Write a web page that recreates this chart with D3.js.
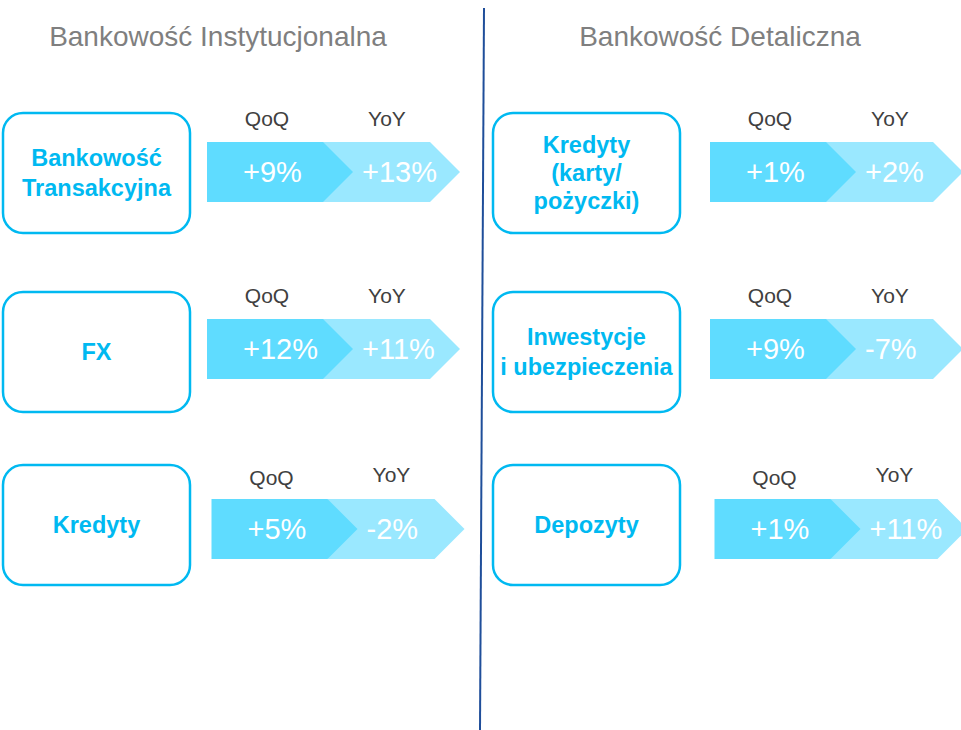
<!DOCTYPE html>
<html>
<head>
<meta charset="utf-8">
<script src="https://cdn.jsdelivr.net/npm/d3@7"></script>
<style>
  html, body { margin: 0; padding: 0; background: #ffffff; }
  svg { display: block; }
  text { font-family: "Liberation Sans", Arial, Helvetica, sans-serif; }
</style>
</head>
<body>
<svg id="chart" width="961" height="730"></svg>
<script>
// ---------- DATA ----------
const panels = ["Bankowość Instytucjonalna", "Bankowość Detaliczna"];
const categories = [
  "Bankowość\nTransakcyjna", "FX", "Kredyty",
  "Kredyty\n(karty/\npożyczki)", "Inwestycje\ni ubezpieczenia", "Depozyty"
];
const categoryPanel = [0, 0, 0, 1, 1, 1];
const categoryRow = [0, 1, 2, 0, 1, 2];
const qoqValues = [9, 12, 5, 1, 9, 1];
const yoyValues = [13, 11, -2, 2, -7, 11];
const seriesLabels = ["QoQ", "YoY"];

// ---------- LAYOUT ----------
const W = 961, H = 730;
const svg = d3.select("#chart");
const fmt = v => (v < 0 ? "-" : "+") + Math.abs(v) + "%";

const panelBoxX = d3.scaleOrdinal().domain([0, 1]).range([3, 493]);
const panelArrowX = d3.scaleOrdinal().domain([0, 1]).range([207, 710]);
const panelTitleX = d3.scaleOrdinal().domain([0, 1]).range([218, 720]);
const rowBoxTop = d3.scaleOrdinal().domain([0, 1, 2]).range([113, 292, 465]);
const rowArrowTop = d3.scaleOrdinal().domain([0, 1, 2]).range([142, 319, 499]);
const rowArrowShift = d3.scaleOrdinal().domain([0, 1, 2]).range([0, 0, 4.5]);

const boxW = 187, boxH = 120;
const arrowH = 60, bodyW = 116, tipW = 30, body2W = 107;

const C_BOX = "#00B9F1";
const C_DARK = "#5FDCFF";
const C_LIGHT = "#9AE8FF";
const C_LABEL = "#404040";
const C_TITLE = "#7F7F7F";

// Divider
svg.append("line")
  .attr("x1", 484).attr("y1", 8)
  .attr("x2", 480).attr("y2", H)
  .attr("stroke", "#1F4E9A").attr("stroke-width", 2);

// Titles
svg.selectAll("text.title").data(panels).enter().append("text")
  .attr("class", "title")
  .attr("x", (d, i) => panelTitleX(i))
  .attr("y", 46)
  .attr("text-anchor", "middle")
  .attr("font-size", 28)
  .attr("fill", C_TITLE)
  .text(d => d);

const line = d3.line();
const items = categories.map((c, i) => ({
  name: c, panel: categoryPanel[i], row: categoryRow[i],
  qoq: qoqValues[i], yoy: yoyValues[i]
}));

const g = svg.selectAll("g.item").data(items).enter().append("g").attr("class", "item");

// Category boxes
g.append("rect")
  .attr("x", d => panelBoxX(d.panel))
  .attr("y", d => rowBoxTop(d.row))
  .attr("width", boxW).attr("height", boxH)
  .attr("rx", 20).attr("ry", 20)
  .attr("fill", "#ffffff")
  .attr("stroke", C_BOX).attr("stroke-width", 2.5);

g.each(function(d) {
  const lines = d.name.split("\n");
  const n = lines.length;
  const cx = panelBoxX(d.panel) + boxW / 2;
  const cy = rowBoxTop(d.row) + boxH / 2;
  const lh = n === 3 ? 28 : 30;
  const t = d3.select(this).append("text")
    .attr("text-anchor", "middle")
    .attr("font-weight", "bold")
    .attr("font-size", 23.5)
    .attr("fill", C_BOX);
  lines.forEach((ln, k) => {
    t.append("tspan")
      .attr("x", cx)
      .attr("y", cy + (k - (n - 1) / 2) * lh + 8)
      .text(ln);
  });
});

// Arrows (YoY first, underneath)
g.append("path")
  .attr("d", d => {
    const x0 = panelArrowX(d.panel) + rowArrowShift(d.row) + bodyW;
    const y0 = rowArrowTop(d.row);
    return line([[x0, y0], [x0 + body2W, y0], [x0 + body2W + tipW, y0 + arrowH / 2],
                 [x0 + body2W, y0 + arrowH], [x0, y0 + arrowH]]) + "Z";
  })
  .attr("fill", C_LIGHT);

g.append("path")
  .attr("d", d => {
    const x0 = panelArrowX(d.panel) + rowArrowShift(d.row);
    const y0 = rowArrowTop(d.row);
    return line([[x0, y0], [x0 + bodyW, y0], [x0 + bodyW + tipW, y0 + arrowH / 2],
                 [x0 + bodyW, y0 + arrowH], [x0, y0 + arrowH]]) + "Z";
  })
  .attr("fill", C_DARK);

// Value labels
[["qoq", 36], ["yoy", 155]].forEach(([key, off]) => {
  g.append("text")
    .attr("x", d => panelArrowX(d.panel) + rowArrowShift(d.row) + off)
    .attr("y", d => rowArrowTop(d.row) + 40)
    .attr("font-size", 29)
    .attr("fill", "#ffffff")
    .text(d => fmt(d[key]));
});

// Series headers
seriesLabels.forEach((s, k) => {
  g.append("text")
    .attr("x", d => panelArrowX(d.panel) + rowArrowShift(d.row) + (k === 0 ? 60 : 180))
    .attr("y", d => rowArrowTop(d.row) - (d.row === 2 ? (k === 0 ? 14 : 17) : 16))
    .attr("text-anchor", "middle")
    .attr("font-size", 21)
    .attr("fill", C_LABEL)
    .text(s);
});
</script>
</body>
</html>
